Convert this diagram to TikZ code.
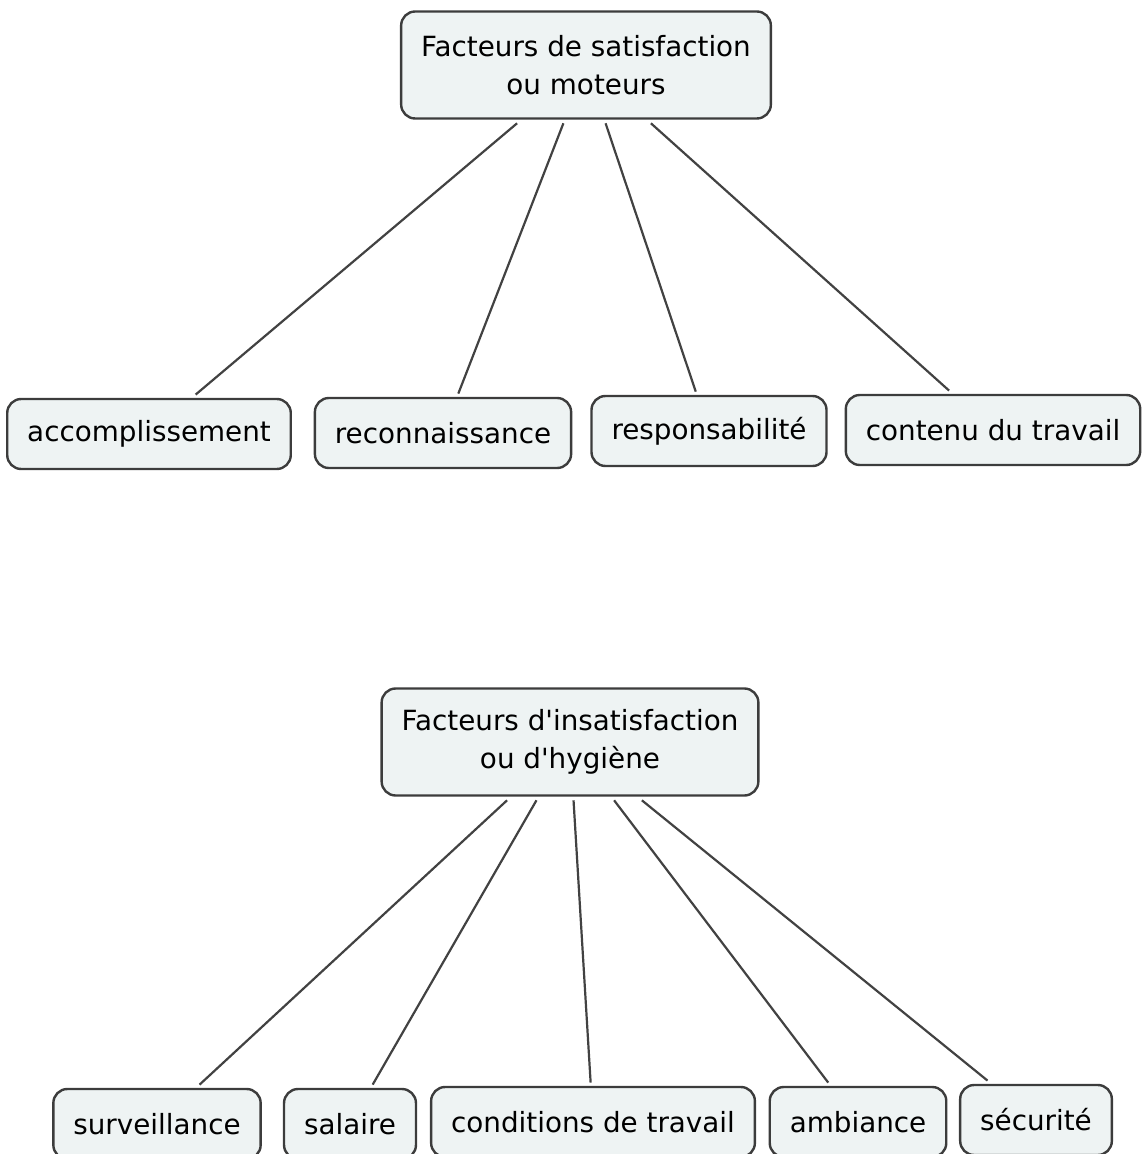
\documentclass[tikz,border=0pt]{standalone}
\usepackage{fontspec}
\setmainfont{DejaVu Sans}[Ligatures=TeXOff]
\usepackage{tikz}

\definecolor{boxfill}{HTML}{EEF3F3}
\definecolor{boxline}{HTML}{3C3C3C}
\definecolor{linkline}{HTML}{424242}

\begin{document}
\begin{tikzpicture}[x=0.5pt,y=-0.5pt,
  rootstyle/.style={rectangle,rounded corners=7pt,draw=boxline,line width=1.2pt,fill=boxfill,
    align=center,inner xsep=10pt,minimum height=53.5pt,outer sep=2.4pt,
    font=\fontsize{13.9}{19}\selectfont},
  leafstyle/.style={rectangle,rounded corners=7pt,draw=boxline,line width=1.2pt,fill=boxfill,
    inner xsep=10pt,minimum height=35pt,outer sep=2.2pt,
    font=\fontsize{13.9}{19}\selectfont},
  linkstyle/.style={draw=linkline,line width=1.1pt}]
  \useasboundingbox (0,0) rectangle (1141,1154);

  % facteurs moteurs
  \node [rootstyle] (sat) at (586,65) {Facteurs de satisfaction\\ou moteurs};
  \foreach \name/\x/\y/\txt in {acc/149/434/accomplissement, rec/443/433/reconnaissance,
      resp/709/431/responsabilité, cont/993/430/contenu du travail}
    \node [leafstyle] (\name) at (\x,\y) {\txt};
  \foreach \name in {acc,rec,resp,cont}
    \draw [linkstyle] (sat) -- (\name);

  % facteurs d'hygiene
  \node [rootstyle] (hyg) at (570,742) {Facteurs d'insatisfaction\\ou d'hygiène};
  \foreach \name/\x/\y/\txt in {surv/157/1124/surveillance, sal/350/1124/salaire,
      cond/593/1122/conditions de travail, amb/858/1122/ambiance, secu/1036/1120/sécurité}
    \node [leafstyle] (\name) at (\x,\y) {\txt};
  \foreach \name in {surv,sal,cond,amb,secu}
    \draw [linkstyle] (hyg) -- (\name);

\end{tikzpicture}
\end{document}
